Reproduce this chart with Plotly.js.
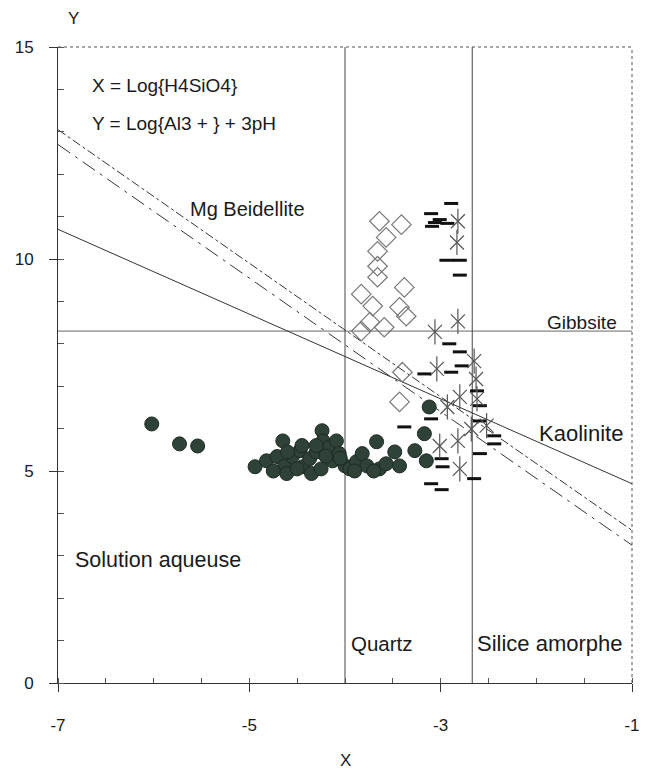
<!DOCTYPE html>
<html><head><meta charset="utf-8">
<script src="https://cdn.plot.ly/plotly-3.0.1.min.js"></script>
<style>body{margin:0;background:#fff}#chart{width:655px;height:775px}</style>
</head><body><div id="chart"></div>
<script>
// Boundary lines
const kaoliniteX = [-7, -1];
const kaoliniteY = [10.7, 4.7];
const beidelliteUpperX = [-7, -1];
const beidelliteUpperY = [13.05, 3.6];
const beidelliteLowerX = [-7, -1];
const beidelliteLowerY = [12.7, 3.25];
const gibbsiteY = 8.3;
const quartzX = -4.0;
const siliceX = -2.67;

// Filled circles
const circleX = [-6.02,-5.73,-5.54,-4.94,-4.82,-4.71,-4.65,-4.63,-4.61,-4.55,-4.47,-4.44,-4.37,-4.35,-4.30,-4.24,-4.23,-4.16,-4.13,-4.09,-4.06,-4.00,-3.95,-3.88,-3.82,-3.77,-3.67,-3.64,-3.57,-3.48,-3.43,-3.27,-3.17,-3.15,-3.12,-4.75,-4.5,-4.25,-4.45,-4.2,-4.05,-3.9,-3.7,-4.6,-4.3];
const circleY = [6.11,5.64,5.59,5.10,5.24,5.34,5.71,5.12,4.94,5.34,5.48,5.10,5.29,4.94,5.45,5.95,5.71,5.57,5.24,5.71,5.41,5.12,5.05,5.22,5.41,5.12,5.69,5.05,5.17,5.45,5.12,5.48,5.88,5.24,6.51,5.0,5.05,5.05,5.6,5.35,5.3,5.0,5.0,5.45,5.6];

// Open diamonds
const diamondX = [-3.64,-3.41,-3.57,-3.66,-3.66,-3.66,-3.83,-3.38,-3.71,-3.43,-3.36,-3.83,-3.74,-3.40,-3.43,-3.59];
const diamondY = [10.89,10.81,10.51,10.18,9.83,9.57,9.17,9.33,8.89,8.86,8.65,8.30,8.51,7.33,6.63,8.39];

// Short dashes
const dashX = [-2.89,-3.10,-3.01,-3.06,-3.09,-2.93,-2.94,-2.80,-2.80,-2.91,-2.80,-2.89,-3.17,-2.78,-2.62,-2.59,-3.10,-2.59,-3.38,-2.44,-2.44,-2.59,-2.99,-2.98,-2.65,-3.10,-2.99];
const dashY = [11.31,11.07,10.93,10.86,10.77,10.84,9.97,9.97,9.62,8.0,7.81,7.33,7.29,7.48,6.89,6.54,6.23,6.18,6.04,5.83,5.64,5.41,5.29,5.10,4.82,4.70,4.56];

// Asterisks
const starX = [-2.82,-2.83,-3.06,-2.82,-3.04,-2.65,-2.63,-2.80,-2.93,-2.62,-2.52,-2.68,-2.82,-3.01,-2.80];
const starY = [10.89,10.39,8.28,8.53,7.41,7.59,7.17,6.75,6.51,6.70,6.07,5.99,5.71,5.59,5.05];

const xTicks = [-7, -5, -3, -1];
const yTicks = [0, 5, 10, 15];

const FONT = 'Liberation Sans, Arial, sans-serif';
const TXT = '#1a1a1a';
const traces = [
  {x: [-7, -1], y: [gibbsiteY, gibbsiteY], mode: 'lines', line: {color: '#666', width: 1}, hoverinfo: 'skip'},
  {x: [quartzX, quartzX], y: [0, 15], mode: 'lines', line: {color: '#444', width: 1}, hoverinfo: 'skip'},
  {x: [siliceX, siliceX], y: [0, 15], mode: 'lines', line: {color: '#444', width: 1}, hoverinfo: 'skip'},
  {x: kaoliniteX, y: kaoliniteY, mode: 'lines', line: {color: '#333', width: 1}},
  {x: beidelliteUpperX, y: beidelliteUpperY, mode: 'lines', line: {color: '#333', width: 1, dash: 'dashdot'}},
  {x: beidelliteLowerX, y: beidelliteLowerY, mode: 'lines', line: {color: '#333', width: 1, dash: 'longdashdot'}},
  {x: circleX, y: circleY, mode: 'markers', marker: {symbol: 'circle', size: 14, color: '#2f4238', line: {color: '#1c2a22', width: 1}}},
  {x: diamondX, y: diamondY, mode: 'markers', marker: {symbol: 'diamond-open', size: 15, color: '#777', line: {width: 1.2}}},
  {x: dashX, y: dashY, mode: 'markers', marker: {symbol: 'line-ew-open', size: 10, color: '#111', line: {width: 3, color: '#111'}}},
  {x: starX, y: starY, mode: 'markers', marker: {symbol: 'x-thin-open', size: 14, color: '#555', line: {width: 1.2, color: '#555'}}},
  {x: starX, y: starY, mode: 'markers', marker: {symbol: 'line-ns-open', size: 18, color: '#555', line: {width: 1.2, color: '#555'}}}
];

const ann = (x, y, text, xanchor, size) => ({x, y, xref: 'x', yref: 'y', text, showarrow: false, xanchor: xanchor || 'left', yanchor: 'middle', font: {family: FONT, size: size || 20, color: TXT}});

const M = {l: 58, r: 23, t: 47, b: 92};
const pw = 655 - M.l - M.r, ph = 775 - M.t - M.b;

const layout = {
  width: 655, height: 775,
  margin: M,
  paper_bgcolor: '#fff', plot_bgcolor: '#fff',
  showlegend: false,
  font: {family: FONT, size: 17, color: TXT},
  xaxis: {range: [-7, -1], tickvals: xTicks, ticktext: xTicks.map(String), ticks: 'outside', ticklen: 8, tickcolor: '#333',
    showline: true, linecolor: '#333', linewidth: 1, showgrid: false, zeroline: false,
    minor: {dtick: 0.5, tick0: -7, ticks: 'inside', ticklen: 5, tickcolor: '#555', showgrid: false},
    tickfont: {family: FONT, size: 17, color: TXT}, ticklabelstandoff: 19},
  yaxis: {range: [0, 15], tickvals: yTicks, ticktext: yTicks.map(String), ticks: 'outside', ticklen: 8, tickcolor: '#333',
    showline: true, linecolor: '#333', linewidth: 1, showgrid: false, zeroline: false,
    minor: {dtick: 1, tick0: 0, ticks: 'inside', ticklen: 6, tickcolor: '#555', showgrid: false},
    tickfont: {family: FONT, size: 17, color: TXT}, ticklabelstandoff: 12},
  shapes: [
    {type: 'line', xref: 'paper', yref: 'paper', x0: 0, x1: 1, y0: 1, y1: 1, line: {color: '#555', width: 1, dash: 'dot'}},
    {type: 'line', xref: 'paper', yref: 'paper', x0: 1, x1: 1, y0: 0, y1: 1, line: {color: '#555', width: 1, dash: 'dot'}}
  ],
  annotations: [
    ann(-6.67, 14.1, 'X = Log{H4SiO4}', 'left', 19),
    ann(-6.67, 13.2, 'Y = Log{Al3 + } + 3pH', 'left', 19),
    ann(-5.02, 11.17, 'Mg Beidellite', 'center', 20),
    ann(-1.52, 8.5, 'Gibbsite', 'center', 19),
    ann(-1.53, 5.88, 'Kaolinite', 'center', 22),
    ann(-6.84, 2.9, 'Solution aqueuse', 'left', 21.5),
    ann(-3.96, 0.94, 'Quartz', 'left', 20.5),
    ann(-2.64, 0.94, 'Silice amorphe', 'left', 22),
    {x: (66 - M.l) / pw, y: 1 + (47 - 18) / ph, xref: 'paper', yref: 'paper', text: 'Y', showarrow: false, yanchor: 'middle', font: {family: FONT, size: 17, color: TXT}},
    {x: (345 - M.l) / pw, y: -(760 - 683) / ph, xref: 'paper', yref: 'paper', text: 'X', showarrow: false, yanchor: 'middle', font: {family: FONT, size: 17, color: TXT}}
  ]
};

Plotly.newPlot('chart', traces, layout, {displayModeBar: false, staticPlot: true});
</script>
</body></html>
